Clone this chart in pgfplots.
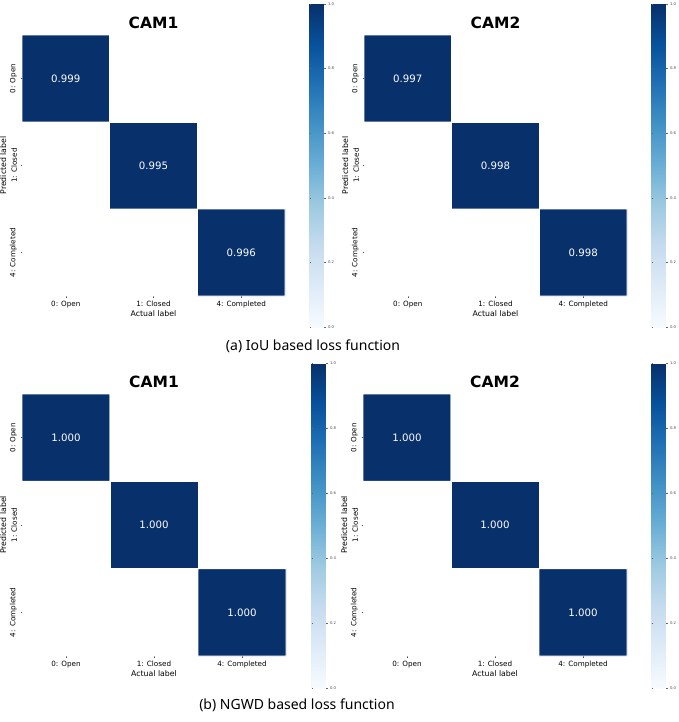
\documentclass[border=0pt]{standalone}
\usepackage{fontspec}
\setmainfont{DejaVu Sans}
\newfontfamily\capfont{Noto Sans}
\usepackage{pgfplots}
\pgfplotsset{compat=1.18}
\usepackage{pgfplotstable}

\pgfplotsset{
  colormap={Blues}{rgb255=(247,251,255) rgb255=(222,235,247) rgb255=(198,219,239) rgb255=(158,202,225) rgb255=(107,174,214) rgb255=(66,146,198) rgb255=(33,113,181) rgb255=(8,81,156) rgb255=(8,48,107)},
  colormap={cells}{rgb255=(255,255,255) rgb255=(8,48,107)},
  hm/.style={
    scale only axis,
    y dir=reverse,
    xmin=-0.5, xmax=2.5, ymin=-0.5, ymax=2.5,
    enlargelimits=false,
    axis line style={draw=none},
    xtick={0,1,2}, ytick={0,1,2},
    xtick pos=bottom, ytick pos=left,
    xticklabels={0: Open,1: Closed,4: Completed},
    yticklabels={0: Open,1: Closed,4: Completed},
    tick align=outside,
    major tick length=1.5pt,
    tick style={black!70, line width=0.4pt},
    ticklabel style={font=\fontsize{7.2}{8}\selectfont},
    yticklabel style={rotate=90, anchor=south},
    xlabel={Actual label}, ylabel={Predicted label},
    label style={font=\fontsize{7.8}{9}\selectfont},
    xlabel style={yshift=4pt},
    ylabel style={yshift=-3pt},
    title style={at={(axis description cs:0.5,1)}, anchor=center, yshift=6pt, font=\bfseries\fontsize{15.5}{18}\selectfont},
    colormap name=Blues,
    point meta min=0, point meta max=1,
    colorbar,
    colorbar style={
      scale only axis,
      width=16pt,
      at={(parent axis.north east)}, anchor=north west,
      axis line style={draw=none},
      ytick={0,0.2,0.4,0.6,0.8,1.0},
      major tick length=1.2pt,
      tick style={black!60, line width=0.3pt},
      yticklabel style={font=\fontsize{3.8}{4}\selectfont, text=black!70, xshift=-1pt,
        /pgf/number format/.cd, fixed, fixed zerofill, precision=1, assume math mode=true},
    },
  },
  cellplot/.style={matrix plot*, mesh/cols=3, point meta=explicit, colormap name=cells, draw=white, line width=0.9pt},
  annot/.style={only marks, mark size=0pt, mark options={draw=none,fill=none}, point meta=explicit symbolic,
    nodes near coords, nodes near coords align={center},
    nodes near coords style={anchor=center, text=white, font=\fontsize{10.2}{12}\selectfont}},
}

\pgfplotstableread{
x y v
0 0 0.999
1 0 0
2 0 0
0 1 0
1 1 0.995
2 1 0
0 2 0
1 2 0
2 2 0.996
}\iouA
\pgfplotstableread{
x y v
0 0 0.997
1 0 0
2 0 0
0 1 0
1 1 0.998
2 1 0
0 2 0
1 2 0
2 2 0.998
}\iouB
\pgfplotstableread{
x y v
0 0 1.000
1 0 0
2 0 0
0 1 0
1 1 1.000
2 1 0
0 2 0
1 2 0
2 2 1.000
}\ngwdA
\pgfplotstableread{
x y v
0 0 1.000
1 0 0
2 0 0
0 1 0
1 1 1.000
2 1 0
0 2 0
1 2 0
2 2 1.000
}\ngwdB

\begin{document}
\begin{tikzpicture}
% (a) CAM1
\begin{axis}[hm, at={(22pt,-35pt)}, anchor=north west, width=263pt, height=261pt, title={CAM1},
  colorbar style={height=323pt, xshift=16pt, yshift=31pt}]
\addplot[cellplot] table[meta=v] {\iouA};
\addplot[annot] coordinates {(0,0)[0.999] (1,1)[0.995] (2,2)[0.996]};
\end{axis}
% (a) CAM2
\begin{axis}[hm, at={(364pt,-35pt)}, anchor=north west, width=263pt, height=261pt, title={CAM2},
  colorbar style={height=323pt, xshift=16pt, yshift=31pt}]
\addplot[cellplot] table[meta=v] {\iouB};
\addplot[annot] coordinates {(0,0)[0.997] (1,1)[0.998] (2,2)[0.998]};
\end{axis}
% (b) CAM1
\begin{axis}[hm, at={(22pt,-394pt)}, anchor=north west, width=264pt, height=262pt, title={CAM1},
  colorbar style={height=325pt, xshift=17pt, yshift=31pt}]
\addplot[cellplot] table[meta=v] {\ngwdA};
\addplot[annot] coordinates {(0,0)[1.000] (1,1)[1.000] (2,2)[1.000]};
\end{axis}
% (b) CAM2
\begin{axis}[hm, at={(363pt,-394pt)}, anchor=north west, width=264pt, height=262pt, title={CAM2},
  colorbar style={height=325pt, xshift=16pt, yshift=31pt}]
\addplot[cellplot] table[meta=v] {\ngwdB};
\addplot[annot] coordinates {(0,0)[1.000] (1,1)[1.000] (2,2)[1.000]};
\end{axis}
\node[font=\capfont\fontsize{14}{16}\selectfont] at (313pt,-346pt) {(a) IoU based loss function};
\node[font=\capfont\fontsize{14}{16}\selectfont] at (297pt,-705pt) {(b) NGWD based loss function};
\pgfresetboundingbox
\path[use as bounding box] (0,0) rectangle (679pt,-722pt);
\end{tikzpicture}
\end{document}
